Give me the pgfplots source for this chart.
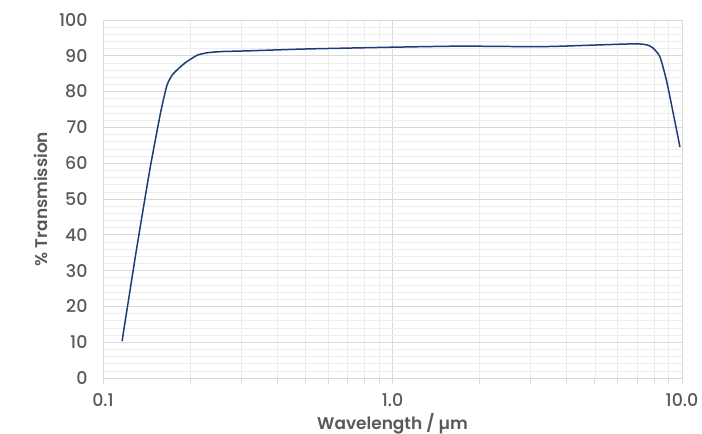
\documentclass[border=0pt]{standalone}
\usepackage{fontspec}
\setmainfont{Poppins}[BoldFont={Poppins SemiBold}]
\newfontfamily\medfont{Poppins Medium}
\usepackage{pgfplots}
\pgfplotsset{compat=1.18}
\definecolor{txt}{HTML}{595959}
\definecolor{gmaj}{HTML}{D9D9D9}
\definecolor{gmin}{HTML}{EDEDED}
\definecolor{navy}{HTML}{1F3A78}
\begin{document}
\begin{tikzpicture}
\path[use as bounding box] (-103bp,-56bp) rectangle (599bp,378bp);
\begin{axis}[
    at={(0,0)}, anchor=south west,
    scale only axis,
    width=579bp, height=358bp,
    xmode=log,
    xmin=0.1, xmax=10,
    ymin=0, ymax=100,
    xtick={0.1,1,10},
    xticklabels={0.1,1.0,10.0},
    ytick={0,10,...,100},
    minor y tick num=4,
    grid=both,
    major grid style={gmaj, line width=0.8pt},
    minor grid style={gmin, line width=0.6pt},
    axis line style={gmaj, line width=0.8pt},
    tick align=outside,
    xtick style={gmaj, line width=0.8pt},
    xtick pos=bottom,
    major tick length=6bp, minor tick length=6bp,
    ytick style={draw=none},
    tick label style={txt, font=\medfont\fontsize{17.5}{20}\selectfont},
    /pgf/number format/assume math mode=true,
    yticklabel style={xshift=-6bp},
    xticklabel style={yshift=-6bp},
    xlabel={\textbf{Wavelength / µm}},
    ylabel={\textbf{\% Transmission}},
    label style={txt, font=\fontsize{17}{20}\selectfont},
    xlabel style={yshift=0bp},
    ylabel style={yshift=4bp},
]
\addplot[navy, line width=1.5pt, smooth, tension=0.35] coordinates {
    (0.1164,10.3)
    (0.130,35)
    (0.145,58)
    (0.158,74)
    (0.1664,81.8)
    (0.1745,84.9)
    (0.192,88.0)
    (0.212,90.2)
    (0.232,90.9)
    (0.26,91.2)
    (0.322,91.4)
    (0.5,91.9)
    (1.0,92.4)
    (1.7,92.7)
    (2.5,92.6)
    (3.5,92.6)
    (5.0,93.0)
    (6.5,93.3)
    (7.16,93.3)
    (7.6,93.0)
    (7.94,92.2)
    (8.39,89.7)
    (8.88,82.4)
    (9.84,64.5)
};
\end{axis}
\end{tikzpicture}
\end{document}
